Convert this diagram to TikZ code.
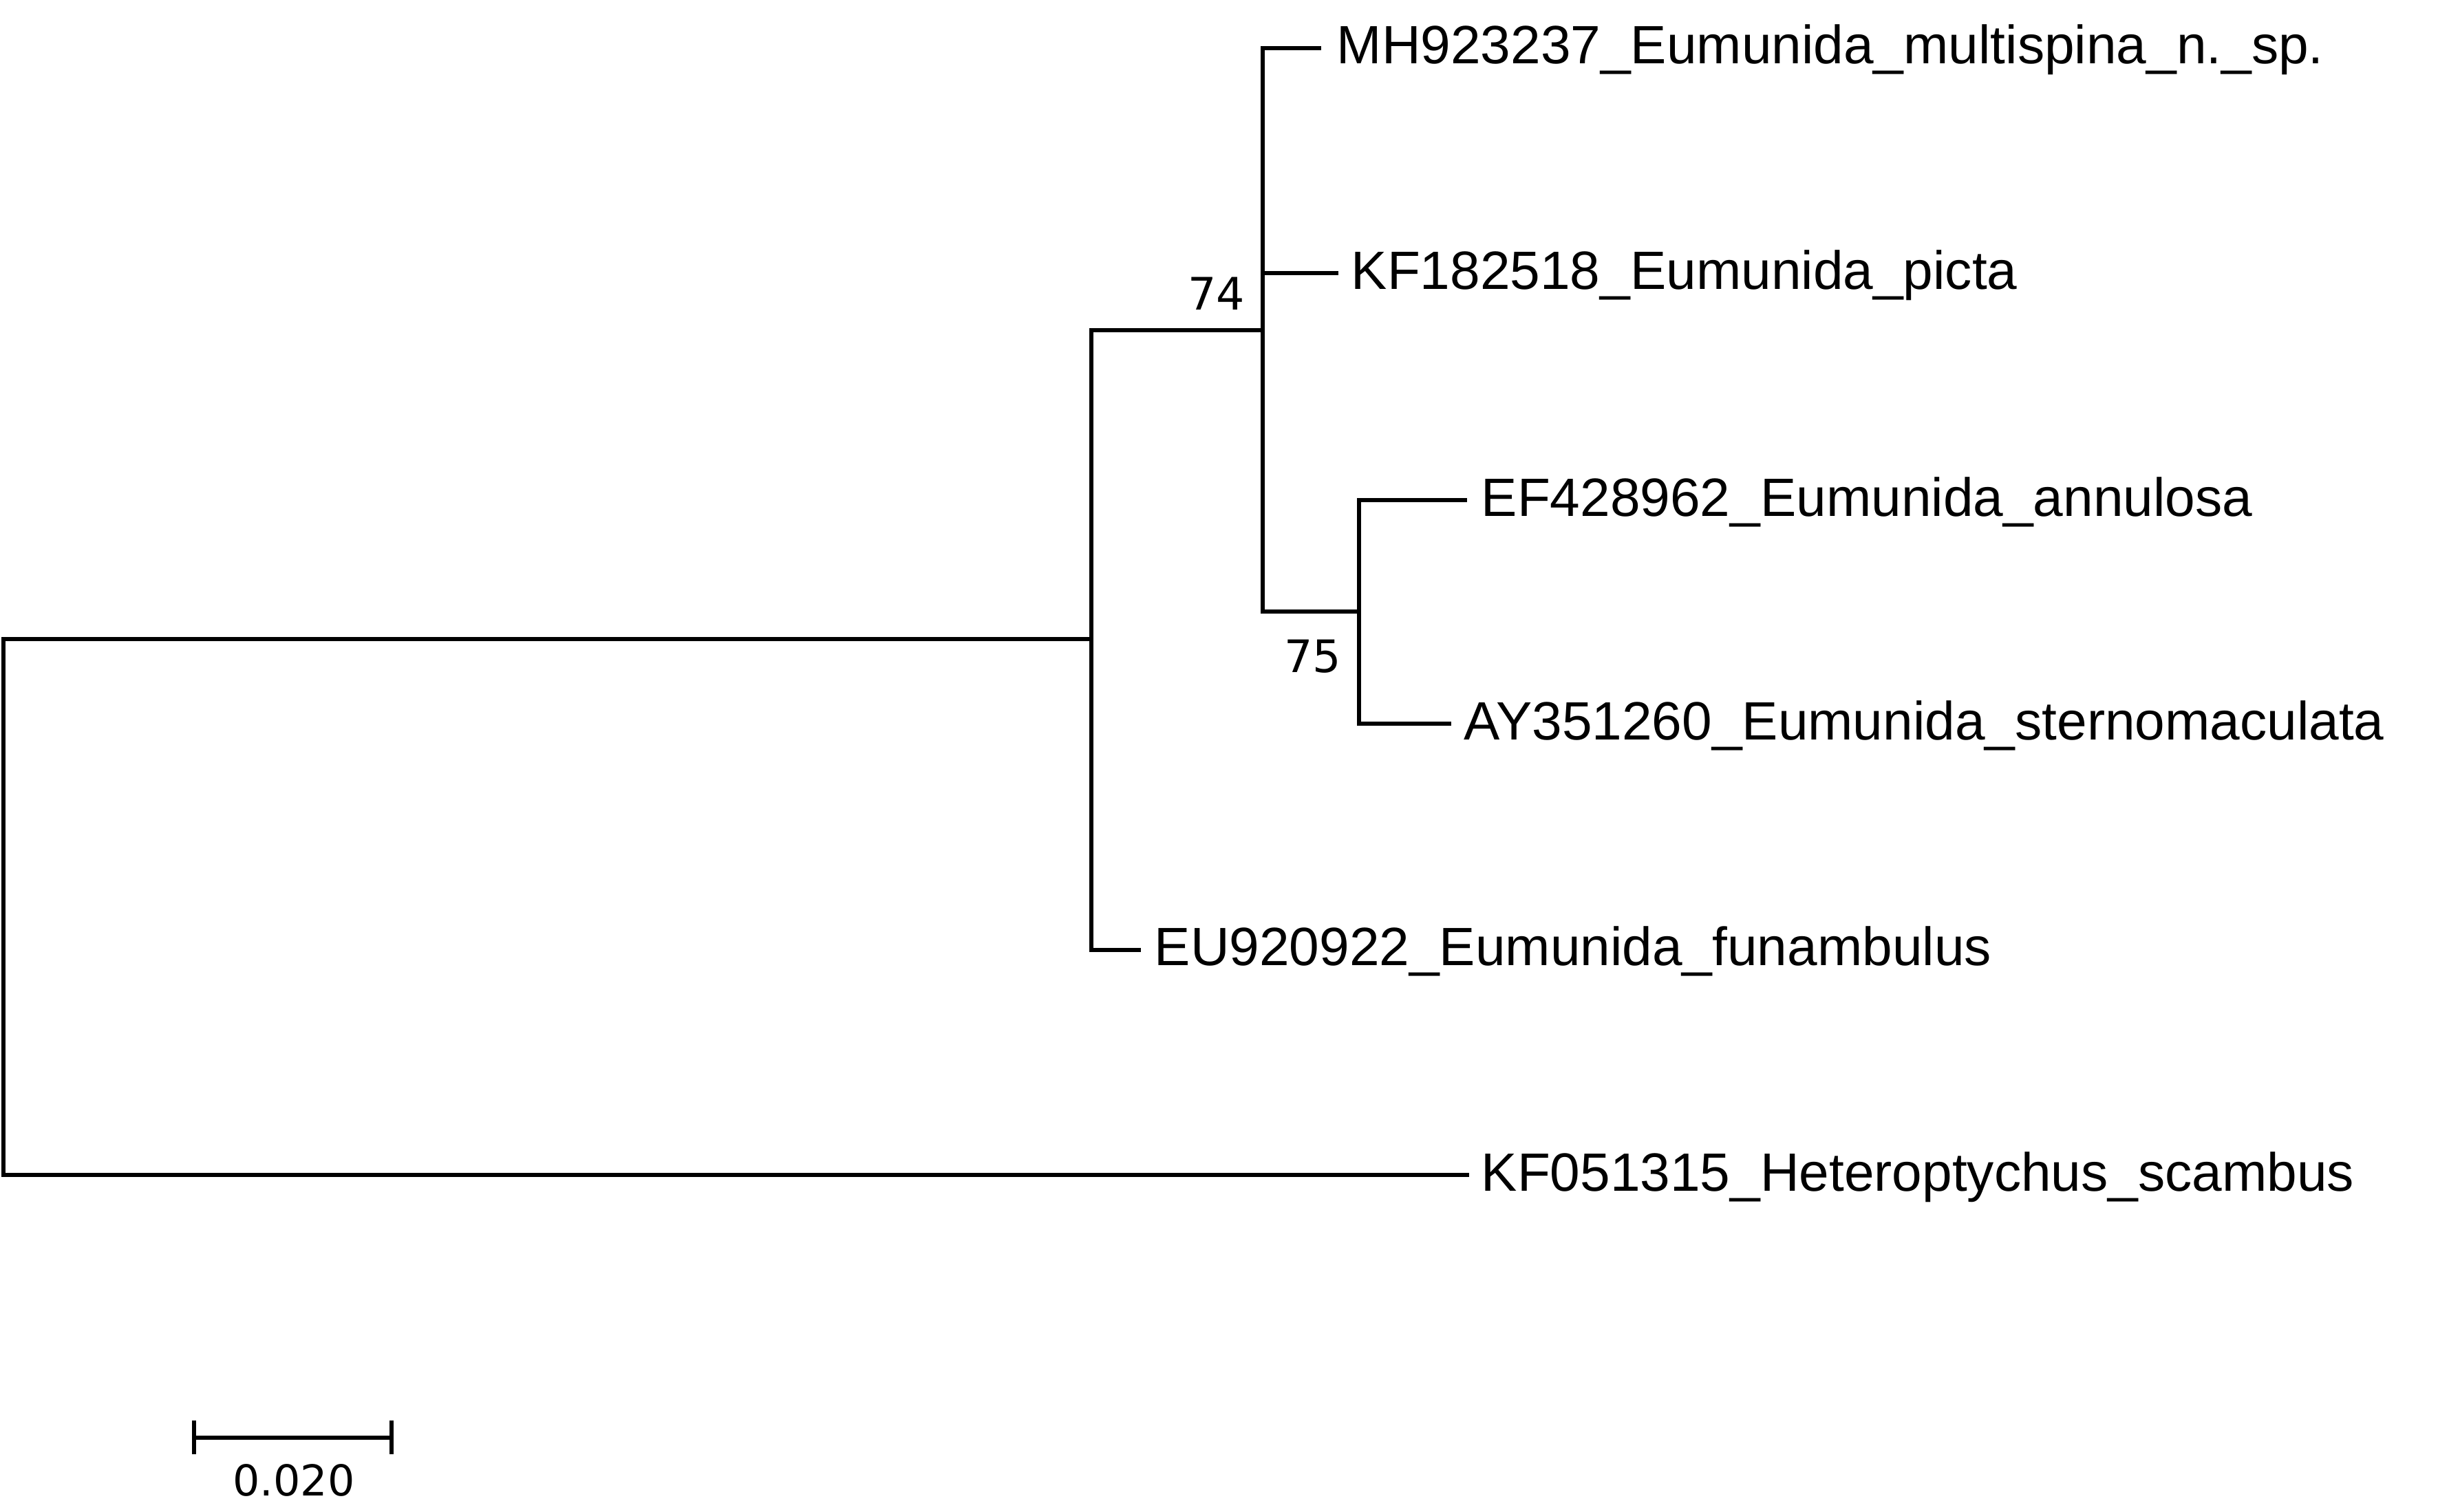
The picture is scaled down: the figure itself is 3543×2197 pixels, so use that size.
\documentclass[tikz,border=0pt]{standalone}
\usepackage{fontspec}
\setmainfont{Liberation Sans}
\newfontfamily\numfont{DejaVu Sans}
\begin{document}
\begin{tikzpicture}[x=0.01cm,y=-0.01cm,
  branch/.style={line width=1.6pt,line cap=rect,line join=miter},
  taxon/.style={anchor=base west,inner sep=0pt,font=\fontsize{22.3pt}{26pt}\selectfont},
  boot/.style={anchor=base east,inner sep=0pt,font=\numfont\fontsize{18.5pt}{22pt}\selectfont},
  scalelbl/.style={anchor=base,inner sep=0pt,font=\numfont\fontsize{17.6pt}{21pt}\selectfont}]
\useasboundingbox (0,0) rectangle (3543,2197);
% internal nodes
\coordinate (root) at (5,929);
\coordinate (rootT) at (5,929);
\coordinate (rootB) at (5,1708);
\coordinate (C) at (1586,929);
\coordinate (CT) at (1586,480);
\coordinate (CB) at (1586,1381);
\coordinate (A) at (1835,480);
\coordinate (AT) at (1835,70);
\coordinate (AM) at (1835,397);
\coordinate (AB) at (1835,889);
\coordinate (B) at (1975,889);
\coordinate (BT) at (1975,727);
\coordinate (BB) at (1975,1052);
% leaf tips
\coordinate (tMH) at (1917,70);
\coordinate (tKFp) at (1942,397);
\coordinate (tEF) at (2129,727);
\coordinate (tAY) at (2106,1052);
\coordinate (tEU) at (1655,1381);
\coordinate (tKFh) at (2132,1708);
% labels
\node[taxon] (lMH) at (1942,93) {MH923237\_Eumunida\_multispina\_n.\_sp.};
\node[taxon] (lKFp) at (1963,420) {KF182518\_Eumunida\_picta};
\node[taxon] (lEF) at (2152,750) {EF428962\_Eumunida\_annulosa};
\node[taxon] (lAY) at (2127,1075) {AY351260\_Eumunida\_sternomaculata};
\node[taxon] (lEU) at (1677,1403) {EU920922\_Eumunida\_funambulus};
\node[taxon] (lKFh) at (2152,1731) {KF051315\_Heteroptychus\_scambus};
% bootstrap values
\node[boot] (b74) at (1810,450) {74};
\node[boot] (b75) at (1950,977) {75};
% branches
\draw[branch] (rootT) -- (rootB);
\draw[branch] (root) -- (C);
\draw[branch] (rootB) -- (tKFh);
\draw[branch] (CT) -- (CB);
\draw[branch] (CT) -- (A);
\draw[branch] (CB) -- (tEU);
\draw[branch] (AT) -- (AB);
\draw[branch] (AT) -- (tMH);
\draw[branch] (AM) -- (tKFp);
\draw[branch] (AB) -- (B);
\draw[branch] (BT) -- (BB);
\draw[branch] (BT) -- (tEF);
\draw[branch] (BB) -- (tAY);
% scale bar
\coordinate (sL) at (282,2090);
\coordinate (sR) at (569,2090);
\coordinate (sLT) at (282,2065);
\coordinate (sLB) at (282,2114);
\coordinate (sRT) at (569,2065);
\coordinate (sRB) at (569,2114);
\draw[branch,line cap=butt] (sL) -- (sR);
\draw[branch,line cap=butt] (sLT) -- (sLB);
\draw[branch,line cap=butt] (sRT) -- (sRB);
\node[scalelbl] (sc) at (427,2174) {0.020};
\end{tikzpicture}
\end{document}
